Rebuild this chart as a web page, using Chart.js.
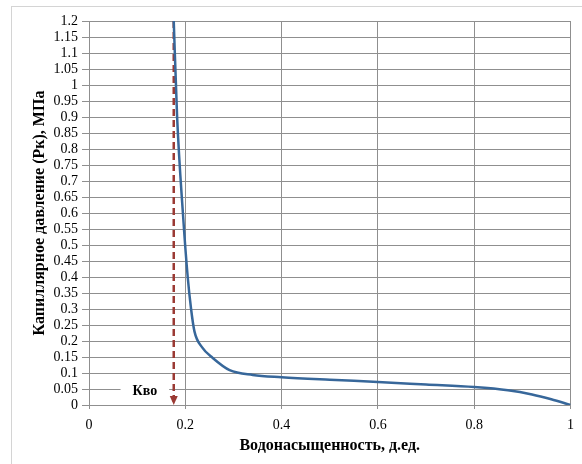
<!DOCTYPE html>
<html>
<head>
<meta charset="utf-8">
<script src="https://cdn.jsdelivr.net/npm/chart.js@4/dist/chart.umd.min.js"></script>
<style>
    html, body { margin: 0; padding: 0; background: #fff; }
    #wrap { position: relative; width: 582px; height: 464px; overflow: hidden; }
    #frame { position: absolute; left: 11px; top: 6px; width: 600px; height: 500px; border: 1px solid #d4d4d4; }
    canvas { position: absolute; left: 0; top: 0; }
</style>
</head>
<body>
<div id="wrap">
    <div id="frame"></div>
    <canvas id="pcChart" width="582" height="464"></canvas>
</div>
<script>
// Capillary pressure curve
const swValues = [0.176, 0.183, 0.195, 0.205, 0.212, 0.219, 0.235, 0.257, 0.292, 0.34, 0.4, 0.5, 0.6, 0.7, 0.8, 0.87, 0.92, 0.96, 1.0];
const pcValues = [1.2, 0.9, 0.6, 0.4, 0.3, 0.23, 0.18, 0.147, 0.109, 0.094, 0.087, 0.079, 0.072, 0.064, 0.056, 0.046, 0.033, 0.018, 0.0];

// Irreducible water saturation marker
const kvoX = [0.176, 0.176];
const kvoY = [1.2, 0.0];
const kvoLabel = 'Кво';
const kvoLabelPos = [0.116, 0.044];

const xTitle = 'Водонасыщенность, д.ед.';
const yTitle = 'Капиллярное давление (Рк), МПа';

const serif = "'Liberation Serif', serif";

function toPoints(xs, ys) {
    return xs.map((x, i) => ({ x: x, y: ys[i] }));
}

// arrow head + Kvo label
const kvoPlugin = {
    id: 'kvoPlugin',
    afterDatasetsDraw(chart) {
        const ctx = chart.ctx;
        const xs = chart.scales.x, ys = chart.scales.y;
        const px = xs.getPixelForValue(kvoX[1]);
        const py = ys.getPixelForValue(kvoY[1]);
        ctx.save();
        ctx.fillStyle = '#9b3a34';
        ctx.beginPath();
        ctx.moveTo(px, py);
        ctx.lineTo(px - 4, py - 9);
        ctx.lineTo(px + 4, py - 9);
        ctx.closePath();
        ctx.fill();

        const lx = xs.getPixelForValue(kvoLabelPos[0]);
        const ly = ys.getPixelForValue(kvoLabelPos[1]);
        ctx.font = 'bold 14px ' + serif;
        const w = ctx.measureText(kvoLabel).width;
        ctx.fillStyle = '#fff';
        ctx.fillRect(lx - w / 2 - 12, ly - 8, w + 24, 16);
        ctx.fillStyle = '#000';
        ctx.textAlign = 'center';
        ctx.textBaseline = 'middle';
        ctx.fillText(kvoLabel, lx, ly);
        ctx.restore();
    }
};

let pcChart = null;

function createChart() {
    const ctx = document.getElementById('pcChart');
    pcChart = new Chart(ctx, {
        type: 'scatter',
        data: {
            datasets: [{
                data: toPoints(kvoX, kvoY),
                showLine: true,
                borderColor: '#9b3a34',
                borderWidth: 2.5,
                borderDash: [7, 4],
                pointRadius: 0,
                order: 2
            }, {
                data: toPoints(swValues, pcValues),
                showLine: true,
                borderColor: '#37679a',
                borderWidth: 2.5,
                pointRadius: 0,
                cubicInterpolationMode: 'monotone',
                order: 1
            }]
        },
        options: {
            responsive: false,
            animation: false,
            layout: { padding: { left: 30, right: 10, top: 21, bottom: 0 } },
            plugins: {
                legend: { display: false },
                tooltip: { enabled: false }
            },
            scales: {
                x: {
                    type: 'linear',
                    min: 0,
                    max: 1,
                    afterFit: (s) => { s.height = 59; },
                    ticks: {
                        stepSize: 0.2,
                        padding: 8,
                        color: '#000',
                        font: { family: serif, size: 14 },
                        callback: (v) => String(Number(v.toFixed(2)))
                    },
                    grid: { color: '#8f8f8f', tickLength: 4 },
                    border: { color: '#8f8f8f' },
                    title: {
                        display: true,
                        text: xTitle,
                        color: '#000',
                        font: { family: serif, size: 16, weight: 'bold' },
                        padding: { top: 4, bottom: 9 }
                    }
                },
                y: {
                    min: 0,
                    max: 1.2,
                    afterFit: (s) => { s.width = 59; },
                    ticks: {
                        stepSize: 0.05,
                        autoSkip: false,
                        padding: 4,
                        color: '#000',
                        font: { family: serif, size: 14 },
                        callback: (v) => String(Number(v.toFixed(2)))
                    },
                    grid: { color: '#8f8f8f', tickLength: 7 },
                    border: { color: '#8f8f8f' },
                    title: {
                        display: true,
                        text: yTitle,
                        color: '#000',
                        font: { family: serif, size: 16, weight: 'bold' },
                        padding: { top: 0, bottom: 0 }
                    }
                }
            }
        },
        plugins: [kvoPlugin]
    });
}

createChart();
</script>
</body>
</html>
